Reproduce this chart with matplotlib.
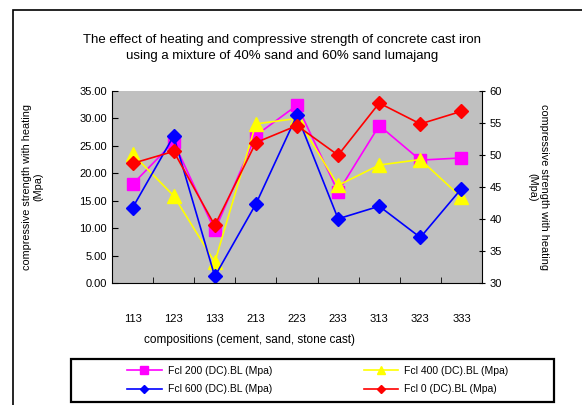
import matplotlib.pyplot as plt
from matplotlib.patches import Rectangle
from matplotlib.lines import Line2D

plt.rcParams['font.family'] = ['Liberation Sans Narrow', 'Liberation Sans', 'DejaVu Sans']

compositions = ['113', '123', '133', '213', '223', '233', '313', '323', '333']
fcl_200 = [18.0, 25.7, 9.6, 26.9, 32.4, 16.6, 28.7, 22.4, 22.8]
fcl_400 = [23.5, 15.9, 3.8, 29.0, 30.0, 17.8, 21.5, 22.5, 15.6]
fcl_600 = [13.7, 26.8, 1.2, 14.4, 30.6, 11.7, 14.0, 8.3, 17.2]
fcl_0 = [21.8, 24.0, 10.5, 25.6, 28.7, 23.3, 32.8, 29.0, 31.3]

fig = plt.figure(figsize=(5.82, 4.05), dpi=100)

# outer chart border
fig.patches.append(Rectangle((13 / 582, -0.01), 1.0, 1 - 10 / 405 + 0.01,
                             transform=fig.transFigure, fill=False,
                             edgecolor='black', linewidth=1.2))
# legend box
fig.patches.append(Rectangle((71 / 582, 1 - 402 / 405), 483 / 582, 43 / 405,
                             transform=fig.transFigure, fill=False,
                             edgecolor='black', linewidth=1.6))

ax = fig.add_axes([112 / 582, 1 - 283 / 405, 370 / 582, 192 / 405])
ax.set_facecolor('#C0C0C0')
x = list(range(len(compositions)))

ax.plot(x, fcl_200, color='#FF00FF', marker='s', markersize=9, linewidth=1.2,
        label='Fcl 200 (DC).BL (Mpa)')
ax.plot(x, fcl_400, color='#FFFF00', marker='^', markersize=10, linewidth=1.2,
        label='Fcl 400 (DC).BL (Mpa)')
ax.plot(x, fcl_600, color='#0000FF', marker='D', markersize=7, linewidth=1.2,
        label='Fcl 600 (DC).BL (Mpa)')
ax.plot(x, fcl_0, color='#FF0000', marker='D', markersize=7, linewidth=1.2,
        label='Fcl 0 (DC).BL (Mpa)')

ax.set_xlim(-0.5, len(compositions) - 0.5)
ax.set_ylim(0, 35)
ax.set_yticks([0, 5, 10, 15, 20, 25, 30, 35])
ax.set_yticklabels(['%.2f' % v for v in [0, 5, 10, 15, 20, 25, 30, 35]], fontsize=8)
ax.set_xticks(x)
ax.set_xticklabels(compositions, fontsize=8)
ax.set_xticks([i + 0.5 for i in range(-1, len(compositions))], minor=True)
ax.tick_params(axis='x', which='major', length=0, pad=22)
ax.tick_params(axis='x', which='minor', length=4, direction='in')
ax.tick_params(axis='y', length=4, direction='in')
for side in ['top', 'right']:
    ax.spines[side].set_visible(False)

ax2 = ax.twinx()
ax2.set_ylim(30, 60)
ax2.set_yticks([30, 35, 40, 45, 50, 55, 60])
ax2.tick_params(axis='y', labelsize=8, length=4, direction='inout')
for side in ['top', 'left', 'bottom']:
    ax2.spines[side].set_visible(False)

fig.text(282 / 582, 1 - 48 / 405,
         'The effect of heating and compressive strength of concrete cast iron\n'
         'using a mixture of 40% sand and 60% sand lumajang',
         ha='center', va='center', fontsize=9.5, linespacing=1.35)

fig.text(33 / 582, 1 - 187 / 405, 'compressive strength with heating\n(Mpa)',
         rotation=90, ha='center', va='center', fontsize=7.8, linespacing=1.15)
fig.text(538 / 582, 1 - 187 / 405, 'compressive strength with heating\n(Mpa)',
         rotation=270, ha='center', va='center', fontsize=7.8, linespacing=1.15)
fig.text(250 / 582, 1 - 340 / 405, 'compositions (cement, sand, stone cast)',
         ha='center', va='center', fontsize=8.5)

handles = [
    Line2D([], [], color='#FF00FF', marker='s', markersize=6, linewidth=1.2),
    Line2D([], [], color='#0000FF', marker='D', markersize=4, linewidth=1.2),
    Line2D([], [], color='#FFFF00', marker='^', markersize=6, linewidth=1.2),
    Line2D([], [], color='#FF0000', marker='D', markersize=4, linewidth=1.2),
]
labels = ['Fcl 200 (DC).BL (Mpa)', 'Fcl 600 (DC).BL (Mpa)',
          'Fcl 400 (DC).BL (Mpa)', 'Fcl 0 (DC).BL (Mpa)']
leg = fig.legend(handles, labels, ncol=2, fontsize=7.5,
                 loc='center left', bbox_to_anchor=(122 / 582, 1 - 380 / 405),
                 frameon=False, handlelength=3.3, handletextpad=0.6,
                 columnspacing=8.8, borderpad=0, labelspacing=0.85)

fig.savefig('out.png', dpi=100)
